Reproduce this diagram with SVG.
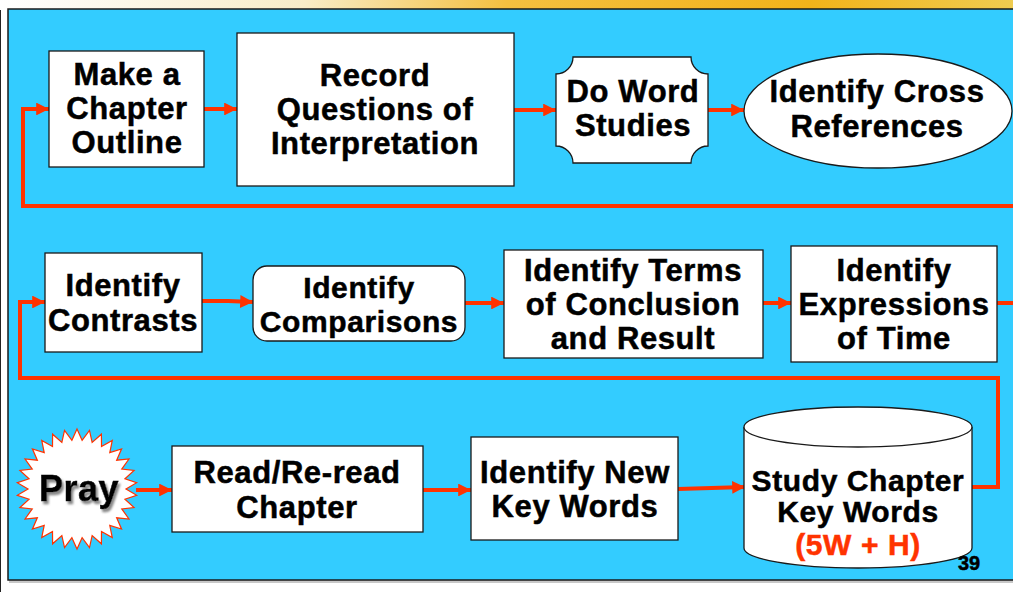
<svg xmlns="http://www.w3.org/2000/svg" width="1013" height="592" viewBox="0 0 1013 592">
  <defs>
    <linearGradient id="topg" x1="0" y1="0" x2="1" y2="0">
      <stop offset="0" stop-color="#ffffff"/>
      <stop offset="0.3" stop-color="#f8ecc8"/>
      <stop offset="0.5" stop-color="#f4c040"/>
      <stop offset="0.8" stop-color="#f2b31a"/>
      <stop offset="1" stop-color="#efcc50"/>
    </linearGradient>
    <marker id="ah" viewBox="0 0 10 10" refX="10" refY="5" markerWidth="3.6" markerHeight="3.2" orient="auto" markerUnits="strokeWidth">
      <path d="M0,0 L10,5 L0,10 Z" fill="#ff3300"/>
    </marker>
    <filter id="sh" x="-20%" y="-20%" width="140%" height="140%">
      <feGaussianBlur in="SourceAlpha" stdDeviation="1.2"/>
      <feOffset dx="2" dy="3" result="b"/>
      <feFlood flood-color="#888888"/>
      <feComposite in2="b" operator="in"/>
      <feMerge><feMergeNode/><feMergeNode in="SourceGraphic"/></feMerge>
    </filter>
  </defs>
  <style>
    .box { fill: #ffffff; stroke: #1a1a1a; stroke-width: 1.3; }
    .t { font-family: "Liberation Sans", Arial, sans-serif; font-weight: bold; font-size: 31px; fill: #000000; stroke: #000000; stroke-width: 0.5px; text-anchor: middle; letter-spacing: 0.6px; }
    .red { fill: #ff3300; stroke: #ff3300; }
    .c { fill: none; stroke: #ff3300; stroke-width: 4; }
  </style>

  <rect x="0" y="0" width="1013" height="592" fill="#ffffff"/>
  <rect x="0" y="0" width="1013" height="9" fill="url(#topg)"/>
  <line x1="0.5" y1="10" x2="0.5" y2="592" stroke="#222222" stroke-width="1"/>
  <rect x="9" y="11" width="1010" height="572" fill="#c8c8c8"/>
  <rect x="8" y="9" width="1010" height="571" fill="#33ccff" stroke="#1a1a1a" stroke-width="1.5"/>

  <g id="connectors">
    <path class="c" d="M204,109 H237" marker-end="url(#ah)"/>
    <path class="c" d="M514,110 H556" marker-end="url(#ah)"/>
    <path class="c" d="M708,110 H744" marker-end="url(#ah)"/>
    <path class="c" d="M1013,206 H23 V109 H49" marker-end="url(#ah)"/>
    <path class="c" d="M202,301 H228 L253,302" marker-end="url(#ah)"/>
    <path class="c" d="M465,303 H504" marker-end="url(#ah)"/>
    <path class="c" d="M763,303 H791" marker-end="url(#ah)"/>
    <path class="c" d="M997,303 H1013"/>
    <path class="c" d="M972,487 H998 V378 H20 V302 H45" marker-end="url(#ah)"/>
    <path class="c" d="M136,490 H172" marker-end="url(#ah)"/>
    <path class="c" d="M423,490 H471" marker-end="url(#ah)"/>
    <path class="c" d="M678,489 L745,487" marker-end="url(#ah)"/>
  </g>

  <g id="n-outline">
    <rect class="box" x="49" y="51" width="155" height="116"/>
    <text class="t" x="127" y="85">Make a</text>
    <text class="t" x="127" y="119">Chapter</text>
    <text class="t" x="127" y="153">Outline</text>
  </g>

  <g id="n-questions">
    <rect class="box" x="237" y="33" width="277" height="153"/>
    <text class="t" x="375" y="86">Record</text>
    <text class="t" x="375" y="120">Questions of</text>
    <text class="t" x="375" y="154">Interpretation</text>
  </g>

  <g id="n-wordstudies">
    <path class="box" d="M573,57 H691 A17,17 0 0 0 708,74 V146 A17,17 0 0 0 691,163 H573 A17,17 0 0 0 556,146 V74 A17,17 0 0 0 573,57 Z"/>
    <text class="t" x="633" y="102">Do Word</text>
    <text class="t" x="633" y="136">Studies</text>
  </g>

  <g id="n-crossref">
    <ellipse class="box" cx="878" cy="111" rx="134" ry="57"/>
    <text class="t" x="877" y="102">Identify Cross</text>
    <text class="t" x="877" y="137">References</text>
  </g>

  <g id="n-contrasts">
    <rect class="box" x="45" y="253" width="157" height="99"/>
    <text class="t" x="123" y="296">Identify</text>
    <text class="t" x="123" y="331">Contrasts</text>
  </g>

  <g id="n-comparisons">
    <rect class="box" x="253" y="266" width="212" height="75" rx="14" ry="14"/>
    <text class="t" x="359" y="298" style="font-size:30px">Identify</text>
    <text class="t" x="359" y="332" style="font-size:30px">Comparisons</text>
  </g>

  <g id="n-conclusion">
    <rect class="box" x="504" y="250" width="259" height="108"/>
    <text class="t" x="633" y="281">Identify Terms</text>
    <text class="t" x="633" y="315">of Conclusion</text>
    <text class="t" x="633" y="349">and Result</text>
  </g>

  <g id="n-time">
    <rect class="box" x="791" y="246" width="206" height="116"/>
    <text class="t" x="894" y="281">Identify</text>
    <text class="t" x="894" y="315">Expressions</text>
    <text class="t" x="894" y="349">of Time</text>
  </g>

  <g id="n-pray">
    <polygon fill="#ffffff" stroke="#ff3300" stroke-width="1.2" points="77,429 82.12,440.27 89.47,430.31 92.14,442.4 101.4,434.19 101.5,446.56 112.27,440.46 109.79,452.59 121.59,448.85 116.64,460.2 128.96,459 121.76,469.07 134.06,470.46 124.93,478.81 136.67,482.73 126,489 136.67,495.27 124.93,499.19 134.06,507.54 121.76,508.93 128.96,519 116.64,517.8 121.59,529.15 109.79,525.41 112.27,537.54 101.5,531.44 101.4,543.81 92.14,535.6 89.47,547.69 82.12,537.73 77,549 71.88,537.73 64.53,547.69 61.86,535.6 52.6,543.81 52.5,531.44 41.73,537.54 44.21,525.41 32.41,529.15 37.36,517.8 25.04,519 32.24,508.93 19.94,507.54 29.07,499.19 17.33,495.27 28,489 17.33,482.73 29.07,478.81 19.94,470.46 32.24,469.07 25.04,459 37.36,460.2 32.41,448.85 44.21,452.59 41.73,440.46 52.5,446.56 52.6,434.19 61.86,442.4 64.53,430.31 71.88,440.27"/>
    <text class="t" x="79" y="501" style="font-size:36px; letter-spacing:0.5px" filter="url(#sh)">Pray</text>
  </g>

  <g id="n-read">
    <rect class="box" x="172" y="446" width="251" height="86"/>
    <text class="t" x="297" y="483">Read/Re-read</text>
    <text class="t" x="297" y="518">Chapter</text>
  </g>

  <g id="n-newkey">
    <rect class="box" x="471" y="437" width="207" height="103"/>
    <text class="t" x="575" y="483">Identify New</text>
    <text class="t" x="575" y="517">Key Words</text>
  </g>

  <g id="n-study">
    <path class="box" d="M744,427 V548 A114,20 0 0 0 972,548 V427"/>
    <ellipse class="box" cx="858" cy="427" rx="114" ry="20"/>
    <text class="t" x="858" y="491" style="font-size:30px">Study Chapter</text>
    <text class="t" x="858" y="522" style="font-size:30px">Key Words</text>
    <text class="t red" x="858" y="555" style="font-size:30px">(5W + H)</text>
  </g>

  <text class="t" x="969" y="570" style="font-size:20px; letter-spacing:0">39</text>
</svg>
